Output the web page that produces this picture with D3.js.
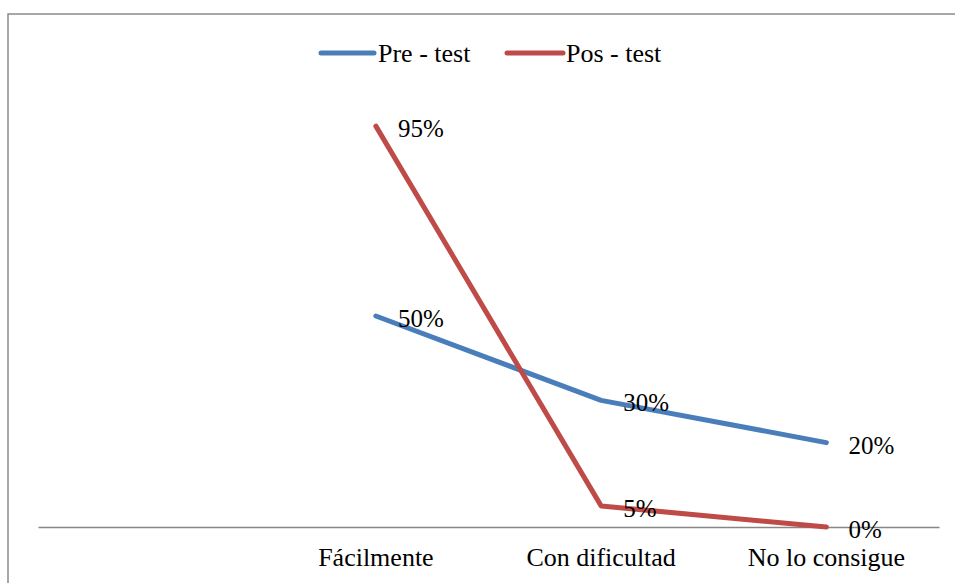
<!DOCTYPE html>
<html>
<head>
<meta charset="utf-8">
<script src="https://cdn.jsdelivr.net/npm/d3@7"></script>
<style>
  html, body { margin: 0; padding: 0; background: #fff; }
  svg { display: block; }
</style>
</head>
<body>
<svg id="chart" width="955" height="583"></svg>
<script>
const categories = ["", "Fácilmente", "Con dificultad", "No lo consigue"];
const seriesNames = ["Pre - test", "Pos - test"];
const preTest = [null, 50, 30, 20];
const posTest = [null, 95, 5, 0];
const seriesColors = ["#4A7EBB", "#BE4B48"];

const FONT = '"Liberation Serif", serif';
const svg = d3.select("#chart");
const W = 955, H = 583;

// outer frame (extends beyond right/bottom edges)
svg.append("rect")
  .attr("x", 8).attr("y", 14)
  .attr("width", W + 20).attr("height", H + 20)
  .attr("fill", "none").attr("stroke", "#8a8a8a").attr("stroke-width", 1.5);

const x = d3.scaleBand().domain(categories.map((c, i) => i)).range([38, 939]);
const y = d3.scaleLinear().domain([0, 100]).range([527, 105]);

// x axis
const xAxis = d3.axisBottom(x).tickSize(0).tickFormat(i => categories[i]);
const gx = svg.append("g").attr("transform", "translate(0,527)").call(xAxis);
gx.attr("font-family", FONT);
gx.select(".domain").attr("stroke", "#868686").attr("stroke-width", 1.5);
gx.selectAll("text").attr("font-size", 26).attr("dy", 0).attr("y", 39)
  .attr("fill", "#000").style("font-family", FONT);

const data = [preTest, posTest];
const line = d3.line()
  .defined(d => d.v !== null)
  .x(d => x(d.i) + x.bandwidth() / 2)
  .y(d => y(d.v));

data.forEach((vals, s) => {
  const pts = vals.map((v, i) => ({ i, v }));
  svg.append("path").datum(pts)
    .attr("d", line)
    .attr("fill", "none")
    .attr("stroke", seriesColors[s])
    .attr("stroke-width", 5)
    .attr("stroke-linejoin", "round")
    .attr("stroke-linecap", "round");
});

// data labels
data.forEach((vals, s) => {
  vals.forEach((v, i) => {
    if (v === null) return;
    svg.append("text")
      .attr("x", x(i) + x.bandwidth() / 2 + 22)
      .attr("y", y(v) + 11)
      .attr("font-size", 25)
      .attr("fill", "#000")
      .style("font-family", FONT)
      .text(v + "%");
  });
});

// legend
const legendItems = [
  { name: seriesNames[0], color: seriesColors[0], x1: 321, x2: 374, tx: 378 },
  { name: seriesNames[1], color: seriesColors[1], x1: 507, x2: 563, tx: 566 }
];
legendItems.forEach(it => {
  svg.append("line")
    .attr("x1", it.x1).attr("x2", it.x2).attr("y1", 53).attr("y2", 53)
    .attr("stroke", it.color).attr("stroke-width", 5).attr("stroke-linecap", "round");
  svg.append("text").attr("x", it.tx).attr("y", 62).attr("font-size", 26)
    .attr("fill", "#000").style("font-family", FONT).text(it.name);
});
</script>
</body>
</html>
